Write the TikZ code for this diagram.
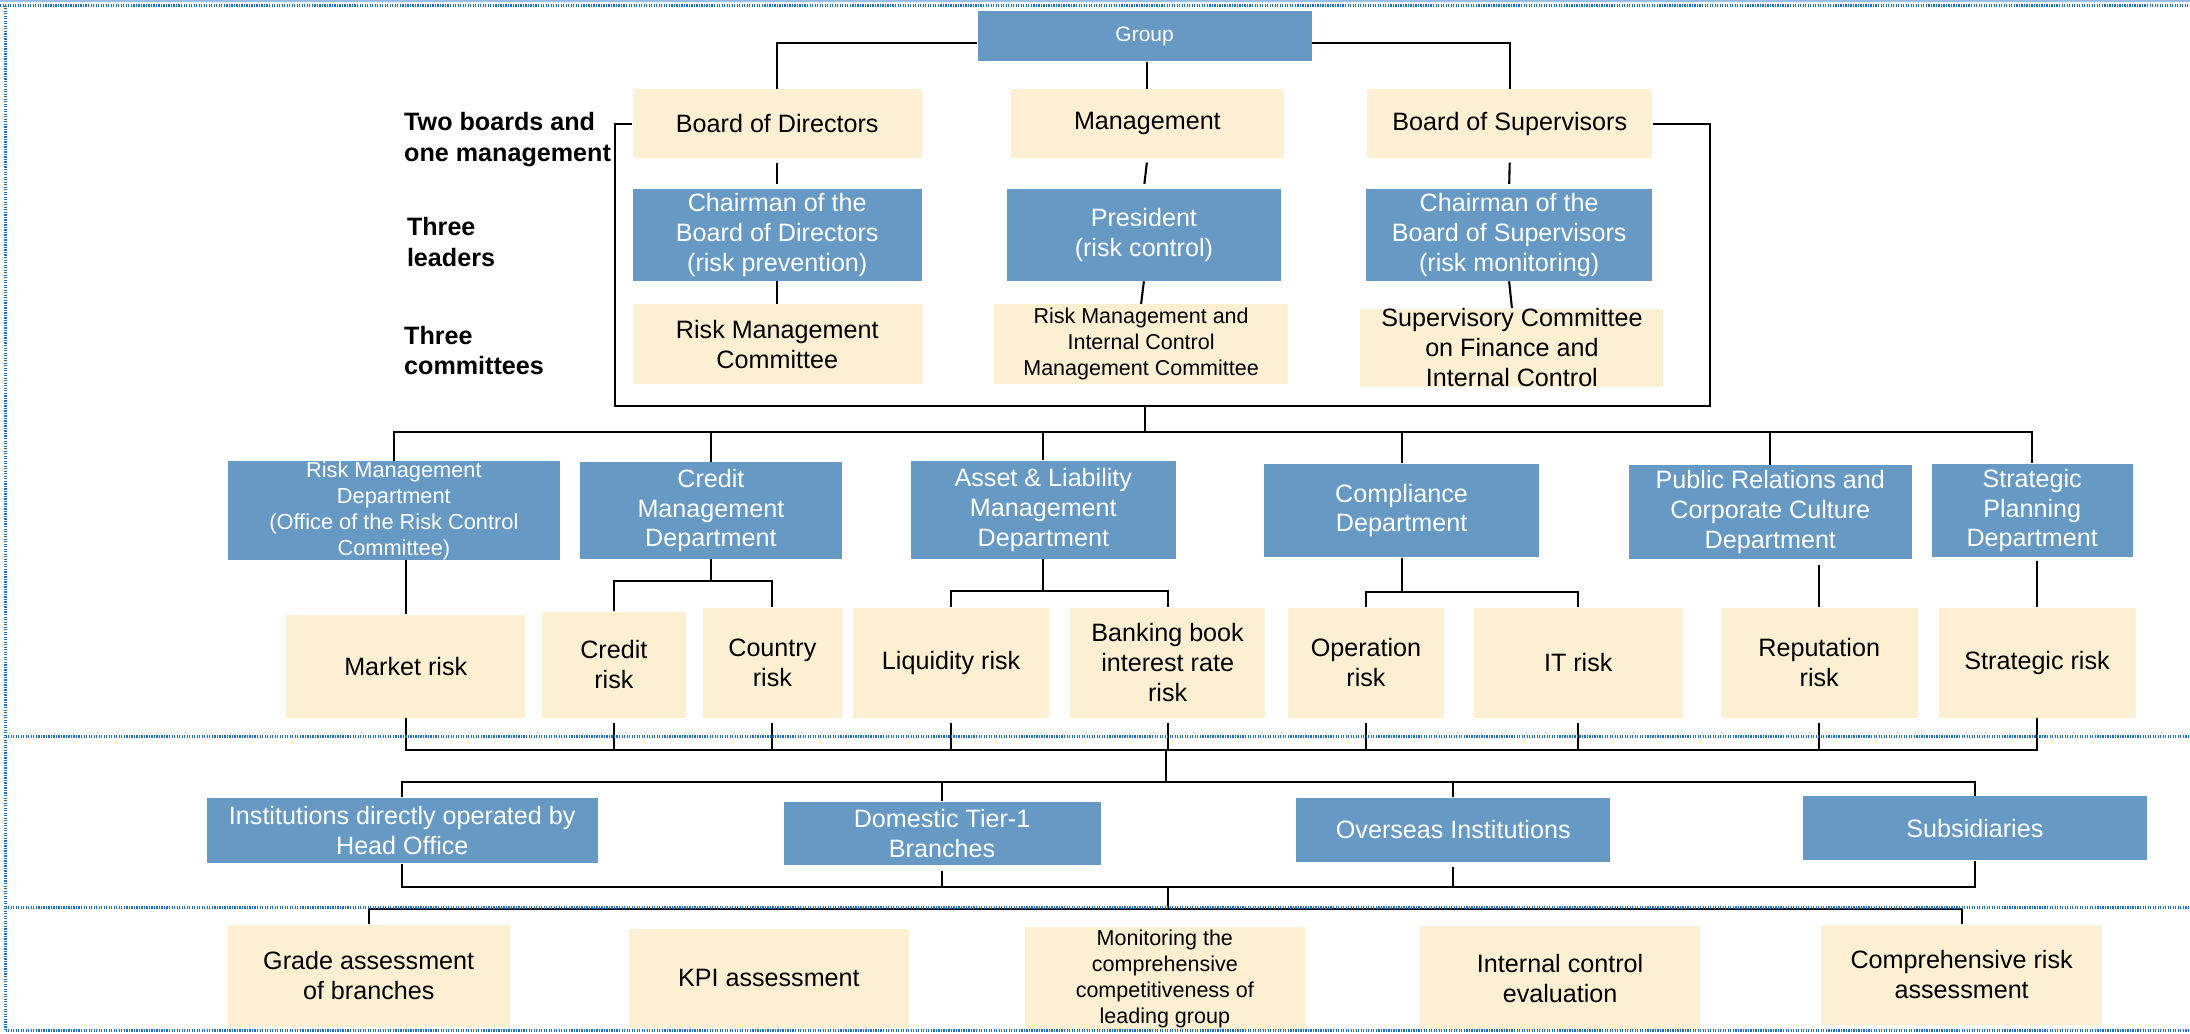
\documentclass[tikz,border=0pt]{standalone}
\usepackage{fontspec}
\setmainfont{Liberation Sans}
\usetikzlibrary{calc}
\definecolor{boxblue}{HTML}{6699C4}
\definecolor{boxbeige}{HTML}{FDEFD1}
\definecolor{dotblue}{HTML}{1C70C6}
\tikzset{
  base/.style={inner sep=0pt, align=center, font=\fontsize{9}{10.7}\selectfont},
  bluebox/.style={base, fill=boxblue, text=white},
  beigebox/.style={base, fill=boxbeige, text=black},
  small/.style={font=\fontsize{7.7}{9.3}\selectfont},
  conn/.style={draw=black, line width=0.75pt},
  gap/.style={shorten <=1.5pt, shorten >=1.5pt},
  sepline/.style={draw=dotblue, line width=1pt, dash pattern=on 0.45pt off 0.45pt},
  lbl/.style={font=\fontsize{9}{11}\selectfont\bfseries, align=left, anchor=west, inner sep=0pt},
}
\newcommand{\bx}[7]{\node[#1, minimum width={(#4-#2)*0.5pt}, minimum height={(#5-#3)*0.5pt}] (#6) at ({(#2+#4)/2},{(#3+#5)/2}) {#7};}
\begin{document}
\begin{tikzpicture}[x=0.5pt,y=-0.5pt]
\fill[white] (0,0) rectangle (1568,740);
\useasboundingbox (0,0) rectangle (1568,740);

% top level
\bx{bluebox,font=\fontsize{7.5}{9}\selectfont}{700}{8}{939}{44}{grp}{\raisebox{-1.5pt}{Group}}
\bx{beigebox}{453}{64}{660}{113}{bod}{Board of Directors}
\bx{beigebox}{724}{64}{919}{113}{mgt}{Management}
\bx{beigebox}{979}{64}{1183}{113}{bos}{Board of Supervisors}
\bx{bluebox}{453}{135}{660}{201}{cbd}{Chairman of the\\Board of Directors\\(risk prevention)}
\bx{bluebox}{721}{135}{917}{201}{pres}{President\\(risk control)}
\bx{bluebox}{978}{135}{1183}{201}{cbs}{Chairman of the\\Board of Supervisors\\(risk monitoring)}
\bx{beigebox}{453}{218}{660}{275}{rmc}{Risk Management\\Committee}
\bx{beigebox,small}{712}{218}{922}{275}{rmic}{Risk Management and\\Internal Control\\Management Committee}
\bx{beigebox}{974}{221}{1191}{277}{scf}{Supervisory Committee\\on Finance and\\Internal Control}

\node[lbl] (l1) at (289,100) {Two boards and\\one management};
\node[lbl] (l2) at (291,173.5) {Three\\leaders};
\node[lbl] (l3) at (289,251) {Three\\committees};

% departments
\bx{bluebox,font=\fontsize{7.8}{9.3}\selectfont}{163}{331}{401}{400}{rmd}{Risk Management\\Department\\(Office of the Risk Control\\Committee)}
\bx{bluebox}{415}{331}{603}{400}{cmd}{Credit\\Management\\Department}
\bx{bluebox}{652}{330}{842}{400}{alm}{Asset \& Liability\\Management\\Department}
\bx{bluebox}{905}{332}{1102}{399}{cpl}{Compliance\\Department}
\bx{bluebox}{1166}{333}{1369}{400}{prc}{Public Relations and\\Corporate Culture\\Department}
\bx{bluebox}{1383}{332}{1527}{399}{spd}{Strategic\\Planning\\Department}

% risks
\bx{beigebox}{205}{440}{376}{514}{mkt}{Market risk}
\bx{beigebox}{388}{438}{491}{514}{crr}{Credit\\risk}
\bx{beigebox}{503}{435}{603}{514}{ctr}{Country\\risk}
\bx{beigebox}{611}{435}{751}{514}{liq}{Liquidity risk}
\bx{beigebox}{766}{435}{906}{514}{bbr}{Banking book\\interest rate\\risk}
\bx{beigebox}{922}{435}{1034}{514}{opr}{Operation\\risk}
\bx{beigebox}{1055}{435}{1205}{514}{itr}{IT risk}
\bx{beigebox}{1232}{435}{1373}{514}{rep}{Reputation\\risk}
\bx{beigebox}{1388}{435}{1529}{514}{str}{Strategic risk}

% institutions
\bx{bluebox}{148}{571}{428}{618}{ido}{Institutions directly operated by\\Head Office}
\bx{bluebox}{561}{574}{788}{619}{dtb}{Domestic Tier-1\\Branches}
\bx{bluebox}{928}{571}{1153}{617}{ovs}{Overseas Institutions}
\bx{bluebox}{1291}{570}{1537}{616}{sub}{Subsidiaries}

% assessments
\bx{beigebox}{163}{662}{365}{735}{gab}{Grade assessment\\of branches}
\bx{beigebox}{450}{665}{651}{736}{kpi}{KPI assessment}
\bx{beigebox,small}{734}{664}{934}{738}{mcc}{Monitoring the\\comprehensive\\competitiveness of\\leading group}
\bx{beigebox}{1017}{663}{1217}{738}{ice}{Internal control\\evaluation}
\bx{beigebox}{1304}{662}{1505}{734}{cra}{Comprehensive risk\\assessment}

% connectors: top
\draw[conn] ([yshift=-2.5pt]grp.west) -| (bod.north);
\draw[conn] ([yshift=-2.5pt]grp.east) -| (bos.north);
\draw[conn] (grp.south -| mgt.north) -- (mgt.north);
\draw[conn,gap] (bod.south) -- (cbd.north);
\draw[conn,gap] (mgt.south) -- (pres.north);
\draw[conn,gap] (bos.south) -- (cbs.north);
\draw[conn] (cbd.south) -- (rmc.north);
\draw[conn] (pres.south) -- (rmic.north);
\draw[conn] (cbs.south) -- (scf.north);

\coordinate (brl) at (440,291);
\coordinate (brr) at (1224,291);
\coordinate (brc) at (820,291);
\coordinate (dbar) at (820,309);
\draw[conn] (bod.west) -| (brl) -- (brr) |- (bos.east);
\draw[conn] (brc) -- (dbar);

% department bar
\draw[conn] (rmd.north) -- (rmd.north |- dbar) -- (spd.north |- dbar) -- (spd.north);
\foreach \n in {cmd,alm,cpl,prc} \draw[conn] (\n.north) -- (\n.north |- dbar);

% department -> risks
\draw[conn] (mkt.north |- rmd.south) -- (mkt.north);
\coordinate (cb) at (499,416);
\draw[conn] (cmd.south) -- (cmd.south |- cb);
\draw[conn] (crr.north) -- (crr.north |- cb) -- (ctr.north |- cb) -- (ctr.north);
\coordinate (ab) at (750,423);
\draw[conn] (alm.south) -- (alm.south |- ab);
\draw[conn] (liq.north) -- (liq.north |- ab) -- (bbr.north |- ab) -- (bbr.north);
\coordinate (pb) at (1033,424);
\draw[conn] (cpl.south) -- (cpl.south |- pb);
\draw[conn] (opr.north) -- (opr.north |- pb) -- (itr.north |- pb) -- (itr.north);
\draw[conn,shorten <=2pt] (rep.north |- prc.south) -- (rep.north);
\draw[conn,shorten <=1pt] (str.north |- spd.south) -- (str.north);

% risks -> institutions
\coordinate (rb) at (835,537);
\coordinate (ib) at (835,560);
\draw[conn] (mkt.south) -- (mkt.south |- rb) -- (str.south |- rb) -- (str.south);
\foreach \n in {crr,ctr,liq,bbr,opr,itr,rep} \draw[conn,shorten <=1.5pt] (\n.south) -- (\n.south |- rb);
\draw[conn] (rb) -- (ib);
\draw[conn] (ido.north) -- (ido.north |- ib) -- (sub.north |- ib) -- (sub.north);
\draw[conn] (dtb.north) -- (dtb.north |- ib);
\draw[conn] (ovs.north) -- (ovs.north |- ib);

% institutions -> assessments
\coordinate (lb) at (836,635);
\coordinate (bb) at (836,651);
\draw[conn] (ido.south) -- (ido.south |- lb) -- (sub.south |- lb) -- (sub.south);
\draw[conn,shorten <=2pt] (dtb.south) -- (dtb.south |- lb);
\draw[conn,shorten <=1.5pt] (ovs.south) -- (ovs.south |- lb);
\draw[conn] (lb) -- (bb);
\draw[conn] (gab.north) -- (gab.north |- bb) -- (cra.north |- bb) -- (cra.north);

% frame lines
\draw[draw=dotblue!45, line width=1pt] (0,0.7) -- (1568,0.7);
\draw[sepline] (0,4) -- (1568,4);
\draw[sepline] (4,4) -- (4,738);
\draw[sepline] (4,527.5) -- (1568,527.5);
\draw[sepline] (4,650) -- (1568,650);
\draw[sepline] (4,738) -- (1568,738);
\end{tikzpicture}
\end{document}
